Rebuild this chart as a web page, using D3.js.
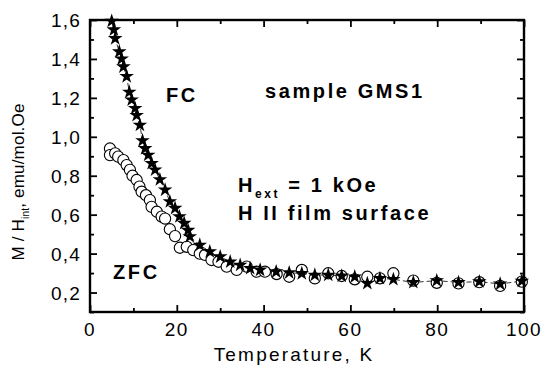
<!DOCTYPE html>
<html>
<head>
<meta charset="utf-8">
<script src="https://cdn.jsdelivr.net/npm/d3@7"></script>
<style>
  html, body { margin: 0; padding: 0; background: #fff; }
  text { font-family: Arial, "Liberation Sans", sans-serif; fill: #000; }
</style>
</head>
<body>
<div id="chart"></div>
<script>
// FC (field cooled) series, stars
const fcTemp = [5.0, 5.5, 5.8, 6.75, 7.3, 7.7, 8.45, 9.05, 9.6, 10.4, 10.75, 11.5, 12.1, 12.7, 13.4,
  14.2, 15.0, 16.1, 17.3, 18.4, 19.6, 20.6, 21.7, 22.6, 23.0, 25.3, 27.6, 30.0, 32.3, 34.6, 36.9,
  39.2, 42.9, 45.9, 48.8, 51.8, 54.9, 58.0, 61.0, 63.9, 66.8, 69.9, 74.5, 79.9, 84.9, 89.7, 94.5, 99.5];
const fcValue = [1.594, 1.55, 1.505, 1.437, 1.40, 1.36, 1.31, 1.23, 1.19, 1.146, 1.11, 1.06, 0.98, 0.94, 0.906,
  0.864, 0.83, 0.78, 0.727, 0.667, 0.633, 0.59, 0.556, 0.52, 0.487, 0.444, 0.41, 0.384, 0.358, 0.341, 0.324,
  0.316, 0.307, 0.302, 0.298, 0.29, 0.29, 0.285, 0.281, 0.247, 0.273, 0.268, 0.252, 0.261, 0.252, 0.256, 0.244, 0.259];

// ZFC (zero field cooled) series, open circles
const zfcTemp = [4.6, 4.6, 5.8, 6.5, 7.7, 8.45, 9.2, 9.8, 10.75, 11.4, 11.9, 12.9, 13.8, 14.2, 15.4, 16.5,
  17.3, 18.4, 19.6, 20.7, 22.3, 23.8, 25.3, 26.5, 28.0, 29.6, 31.5, 33.8, 36.1, 38.4, 40.3,
  43.0, 45.9, 48.8, 51.8, 54.9, 58.0, 61.0, 63.9, 66.8, 69.9, 74.5, 79.9, 84.9, 89.7, 94.5, 99.5];
const zfcValue = [0.94, 0.906, 0.915, 0.898, 0.88, 0.855, 0.83, 0.80, 0.778, 0.744, 0.718, 0.70, 0.675, 0.64, 0.615, 0.59,
  0.58, 0.525, 0.49, 0.43, 0.435, 0.418, 0.40, 0.393, 0.367, 0.358, 0.333, 0.316, 0.333, 0.307, 0.307,
  0.295, 0.281, 0.316, 0.273, 0.299, 0.285, 0.268, 0.281, 0.273, 0.299, 0.261, 0.25, 0.247, 0.253, 0.234, 0.256];

const xTicks = [0, 20, 40, 60, 80, 100];
const xMinorTicks = [10, 30, 50, 70, 90];
const yTicks = [0.2, 0.4, 0.6, 0.8, 1.0, 1.2, 1.4, 1.6];
const yMinorTicks = [0.1, 0.3, 0.5, 0.7, 0.9, 1.1, 1.3, 1.5];

const width = 545, height = 367;
const margin = { top: 20, right: 21, bottom: 55, left: 90 };
const innerW = width - margin.left - margin.right;
const innerH = height - margin.top - margin.bottom;

const svg = d3.select("#chart").append("svg")
  .attr("width", width).attr("height", height);

const g = svg.append("g").attr("transform", `translate(${margin.left},${margin.top})`);

const x = d3.scaleLinear().domain([0, 100]).range([0, innerW]);
const y = d3.scaleLinear().domain([0.1, 1.6]).range([innerH, 0]);

const fmt = d => d3.format(".1f")(d).replace(".", ",");

// dashed connecting line
const fcData = fcTemp.map((t, i) => [t, fcValue[i]]);
const zfcData = zfcTemp.map((t, i) => [t, zfcValue[i]]);
g.append("path")
  .datum(fcData)
  .attr("fill", "none")
  .attr("stroke", "#000")
  .attr("stroke-width", 0.8)
  .attr("stroke-dasharray", "5,3")
  .attr("d", d3.line().x(d => x(d[0])).y(d => y(d[1])));

// ZFC circles
g.selectAll(".zfc").data(zfcData).enter().append("circle")
  .attr("class", "zfc")
  .attr("cx", d => x(d[0])).attr("cy", d => y(d[1]))
  .attr("r", 5.6)
  .attr("fill", "#fff").attr("stroke", "#000").attr("stroke-width", 1.1);

// FC stars
const star = d3.symbol().type(d3.symbolStar).size(66);
g.selectAll(".fc").data(fcData).enter().append("path")
  .attr("class", "fc")
  .attr("transform", d => `translate(${x(d[0])},${y(d[1])})`)
  .attr("d", star)
  .attr("fill", "#000");

// axes: ticks inward on all four sides
const major = 7, minor = 4;
g.append("g").attr("transform", `translate(0,${innerH})`)
  .call(d3.axisBottom(x).tickValues(xTicks).tickSize(-major).tickFormat(""));
g.append("g").attr("transform", `translate(0,${innerH})`)
  .call(d3.axisBottom(x).tickValues(xMinorTicks).tickSize(-minor).tickFormat(""));
g.append("g")
  .call(d3.axisTop(x).tickValues(xTicks).tickSize(-major).tickFormat(""));
g.append("g")
  .call(d3.axisTop(x).tickValues(xMinorTicks).tickSize(-minor).tickFormat(""));
g.append("g")
  .call(d3.axisLeft(y).tickValues(yTicks).tickSize(-major).tickFormat(""));
g.append("g")
  .call(d3.axisLeft(y).tickValues(yMinorTicks).tickSize(-minor).tickFormat(""));
g.append("g").attr("transform", `translate(${innerW},0)`)
  .call(d3.axisRight(y).tickValues(yTicks).tickSize(-major).tickFormat(""));
g.append("g").attr("transform", `translate(${innerW},0)`)
  .call(d3.axisRight(y).tickValues(yMinorTicks).tickSize(-minor).tickFormat(""));
g.selectAll(".domain").remove();
g.selectAll(".tick line").attr("stroke", "#000").attr("stroke-width", 1.8);

// frame
g.append("rect")
  .attr("width", innerW).attr("height", innerH)
  .attr("fill", "none").attr("stroke", "#000").attr("stroke-width", 2.4);

// tick labels
g.selectAll(".xlab").data(xTicks).enter().append("text")
  .attr("x", d => x(d)).attr("y", innerH + 24)
  .attr("text-anchor", "middle")
  .style("font-size", "19px").style("letter-spacing", "1.5px")
  .text(d => d);
g.selectAll(".ylab").data(yTicks).enter().append("text")
  .attr("x", -9).attr("y", d => y(d) + 7)
  .attr("text-anchor", "end")
  .style("font-size", "19px").style("letter-spacing", "1.2px")
  .text(fmt);

// axis titles
svg.append("text")
  .attr("x", 294).attr("y", 361)
  .attr("text-anchor", "middle")
  .style("font-size", "19px").style("letter-spacing", "2.2px")
  .text("Temperature, K");

const yt = svg.append("text")
  .attr("transform", "translate(24,182) rotate(-90)")
  .attr("text-anchor", "middle")
  .style("font-size", "17px").style("letter-spacing", "0.2px");
yt.append("tspan").text("M / H");
yt.append("tspan").attr("dy", 5).style("font-size", "10px").text("int");
yt.append("tspan").attr("dy", -5).text(", emu/mol.Oe");

// annotations
const bold = (sel) => sel.style("font-weight", "bold").style("font-size", "20px").style("letter-spacing", "2.6px");
svg.append("text").attr("x", 166).attr("y", 102).call(bold).text("FC");
svg.append("text").attr("x", 265).attr("y", 98).call(bold).text("sample GMS1");
svg.append("text").attr("x", 113).attr("y", 279).call(bold).text("ZFC");
const h1 = svg.append("text").attr("x", 238).attr("y", 192).call(bold);
h1.append("tspan").text("H");
h1.append("tspan").attr("dy", 6).style("font-size", "12px").text("ext");
h1.append("tspan").attr("dy", -6).text(" = 1 kOe");
svg.append("text").attr("x", 238).attr("y", 220).call(bold).text("H II film surface");
</script>
</body>
</html>
